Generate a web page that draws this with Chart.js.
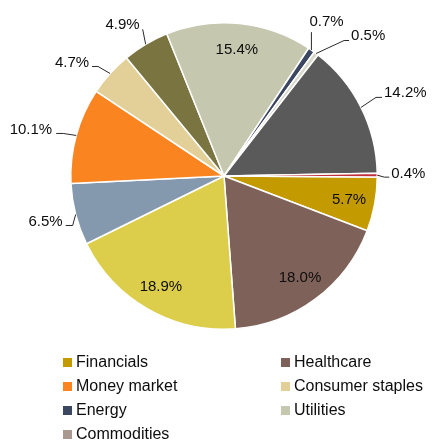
<!DOCTYPE html>
<html>
<head>
<meta charset="utf-8">
<script src="https://cdn.jsdelivr.net/npm/chart.js@4.4.0/dist/chart.umd.min.js"></script>
<style>
  html, body { margin: 0; padding: 0; background: #fff; }
  #wrap { width: 432px; height: 441px; }
</style>
</head>
<body>
<div id="wrap"><canvas id="chartSectores"></canvas></div>
<script>
// Categories in clockwise order, starting with Financials
var categorias = ["Financials", "Healthcare", "Other 1", "Other 2", "Money market", "Consumer staples",
  "Other 3", "Utilities", "Energy", "Other 4", "Other 5", "Other 6", "Commodities"];
// Share of each category (%)
var porcentajes = [5.7, 18.0, 18.9, 6.5, 10.1, 4.7, 4.9, 15.4, 0.7, 0.5, 14.2, 0.4, 0];
var colores = ["#c39a00", "#7e6259", "#dccd4a", "#8599ae", "#fa8420", "#e3cf98",
  "#7a7440", "#c5c8ae", "#3b4660", "#d8dacc", "#5a5a5a", "#c0303a", "#a89890"];
// Entries shown in the legend
var enLeyenda = ["Financials", "Healthcare", "Money market", "Consumer staples", "Energy", "Utilities", "Commodities"];

// Label placement: inside the slice, or outside with a leader line
// codo = elbow offset from the rim, cola = horizontal tail, texto = text offset from the line end
var etiquetas = [
  { modo: "in" },
  { modo: "in" },
  { modo: "in" },
  { modo: "out", codo: [-3, 11], cola: -7, texto: [-3, -4], alinear: "right" },
  { modo: "out", codo: [-13, -2], cola: -7, texto: [-4, -4], alinear: "right" },
  { modo: "out", codo: [-12, -7], cola: -6, texto: [-3, -4], alinear: "right" },
  { modo: "out", codo: [-3, -15], cola: 0, texto: [-3, -4], alinear: "right" },
  { modo: "in" },
  { modo: "out", codo: [0, -18], cola: 0, texto: [-2, -10], alinear: "left" },
  { modo: "out", codo: [28, -13], cola: 5, texto: [2, -5], alinear: "left" },
  { modo: "out", codo: [15, -10], cola: 6, texto: [2, -5], alinear: "left" },
  { modo: "out", codo: [7, 2], cola: 5, texto: [2, -3], alinear: "left" },
  { modo: "none" }
];

var fuente = "'Liberation Sans', Arial, sans-serif";

// Plugin: percentage labels with leader lines
var pluginEtiquetas = {
  id: "etiquetas",
  afterDatasetsDraw: function (chart) {
    var ctx = chart.ctx;
    var meta = chart.getDatasetMeta(0);
    ctx.save();
    ctx.font = "15px " + fuente;
    ctx.textBaseline = "middle";
    meta.data.forEach(function (arc, i) {
      var conf = etiquetas[i];
      if (!conf || conf.modo === "none" || porcentajes[i] <= 0) return;
      var medio = (arc.startAngle + arc.endAngle) / 2;
      var texto = porcentajes[i].toFixed(1) + "%";
      ctx.fillStyle = "#0d0d0d";
      if (conf.modo === "in") {
        var r = arc.outerRadius * 0.83;
        ctx.textAlign = "center";
        ctx.fillText(texto, arc.x + Math.cos(medio) * r, arc.y + Math.sin(medio) * r);
        return;
      }
      var bx = arc.x + Math.cos(medio) * arc.outerRadius;
      var by = arc.y + Math.sin(medio) * arc.outerRadius;
      var cx = bx + conf.codo[0];
      var cy = by + conf.codo[1];
      var ex = cx + conf.cola;
      ctx.strokeStyle = "#2a2a2a";
      ctx.lineWidth = 1;
      ctx.beginPath();
      ctx.moveTo(bx, by);
      ctx.lineTo(cx, cy);
      ctx.lineTo(ex, cy);
      ctx.stroke();
      ctx.textAlign = conf.alinear;
      ctx.fillText(texto, ex + conf.texto[0], cy + conf.texto[1]);
    });
    ctx.restore();
  }
};

// Plugin: two-column legend under the pie
var pluginLeyenda = {
  id: "leyenda2col",
  afterDraw: function (chart) {
    var ctx = chart.ctx;
    var columnas = [63, 281];
    var y0 = chart.chartArea.bottom + 33;
    var paso = 24;
    ctx.save();
    ctx.font = "16px " + fuente;
    ctx.textBaseline = "middle";
    ctx.textAlign = "left";
    enLeyenda.forEach(function (nombre, k) {
      var i = categorias.indexOf(nombre);
      var x = columnas[k % 2];
      var y = y0 + Math.floor(k / 2) * paso;
      ctx.fillStyle = colores[i];
      ctx.fillRect(x, y - 5, 9, 9);
      ctx.fillStyle = "#0d0d0d";
      ctx.fillText(nombre, x + 13, y);
    });
    ctx.restore();
  }
};

var ctx = document.getElementById("chartSectores").getContext("2d");
var chartSectores = new Chart(ctx, {
  type: "pie",
  data: {
    labels: categorias,
    datasets: [
      {
        data: porcentajes,
        backgroundColor: colores,
        borderColor: "#ffffff",
        borderWidth: 1.5
      }
    ]
  },
  options: {
    responsive: true,
    maintainAspectRatio: false,
    animation: false,
    rotation: 90.4,
    layout: {
      padding: { left: 70, right: 54, top: 22, bottom: 111 }
    },
    plugins: {
      legend: { display: false },
      tooltip: { enabled: false }
    }
  },
  plugins: [pluginEtiquetas, pluginLeyenda]
});
</script>
</body>
</html>
